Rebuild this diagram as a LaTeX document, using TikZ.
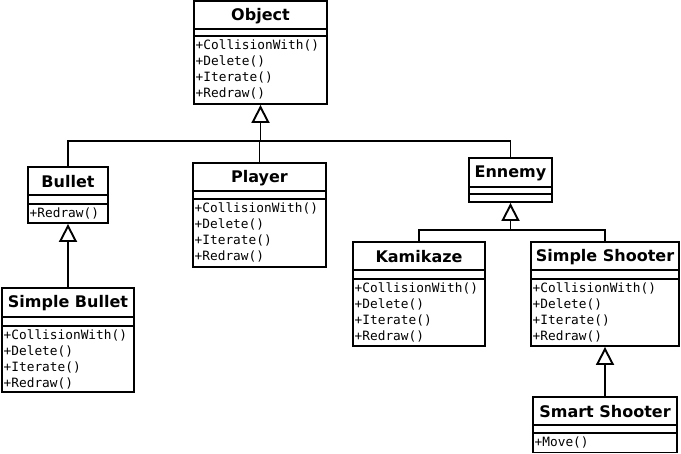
\documentclass[tikz,border=0pt]{standalone}
\usepackage{fontspec}
\usetikzlibrary{arrows.meta}
\newfontfamily\ttlfont{DejaVu Sans}
\newfontfamily\monofont{DejaVu Sans Mono}
\tikzset{
  x=1pt, y=-1pt,
  classbox/.style={draw, line width=1.9pt, inner sep=0pt, fill=white},
  classtitle/.style={inner sep=0pt, font=\ttlfont\bfseries\fontsize{16}{19}\selectfont},
  methods/.style={inner sep=0pt, anchor=north west, align=left, font=\monofont\fontsize{12.8}{16}\selectfont},
  sep/.style={line width=1.9pt},
  conn/.style={line width=1.9pt},
  inh/.style={-{Triangle[open, length=18pt, width=18pt]}},
}
\newcommand{\umlclass}[9]{%
  \node[classbox, minimum width={#4-#2}, minimum height={#5-#3}] (#1) at ({(#2+#4)/2},{(#3+#5)/2}) {};
  \node[classtitle] (#1-t) at ({(#2+#4)/2},{(#3+#6)/2+0.8}) {#8};
  \draw[sep] (#2,#6) -- (#4,#6) (#2,#7) -- (#4,#7);
  \node[methods] (#1-m) at ({#2+1.5},{#7+3.5}) {#9};
}
\begin{document}
\begin{tikzpicture}
\useasboundingbox (0,0) rectangle (681,454);
\umlclass{obj}{194}{1}{327}{104}{29}{36}{Object}{+CollisionWith()\\+Delete()\\+Iterate()\\+Redraw()}
\umlclass{bul}{28}{167}{108}{223}{195}{204}{Bullet}{+Redraw()}
\umlclass{ply}{193}{163}{326}{267}{191}{199}{Player}{+CollisionWith()\\+Delete()\\+Iterate()\\+Redraw()}
\umlclass{enm}{469}{158}{552}{202}{187}{194}{Ennemy}{}
\umlclass{kam}{353}{242}{485}{346}{270}{279}{Kamikaze}{+CollisionWith()\\+Delete()\\+Iterate()\\+Redraw()}
\umlclass{ssh}{531}{242}{679}{346}{270}{279}{Simple Shooter}{+CollisionWith()\\+Delete()\\+Iterate()\\+Redraw()}
\umlclass{sbu}{2}{288}{134}{392}{317}{326}{Simple Bullet}{+CollisionWith()\\+Delete()\\+Iterate()\\+Redraw()}
\umlclass{sms}{533}{397}{677}{452.5}{425}{433}{Smart Shooter}{+Move()}
\coordinate (j1) at (260.5,141);
\coordinate (j2) at (510.5,230);
\draw[conn] (bul.north) |- (j1) -| (enm.north);
\draw[conn] (ply.north) -- (ply.north |- j1);
\draw[conn,inh] (j1) -- (obj.south);
\draw[conn] (kam.north) |- (j2) -| (ssh.north);
\draw[conn,inh] (j2) -- (enm.south);
\draw[conn,inh] (sbu.north) -- (bul.south);
\draw[conn,inh] (sms.north) -- (ssh.south);
\end{tikzpicture}
\end{document}
